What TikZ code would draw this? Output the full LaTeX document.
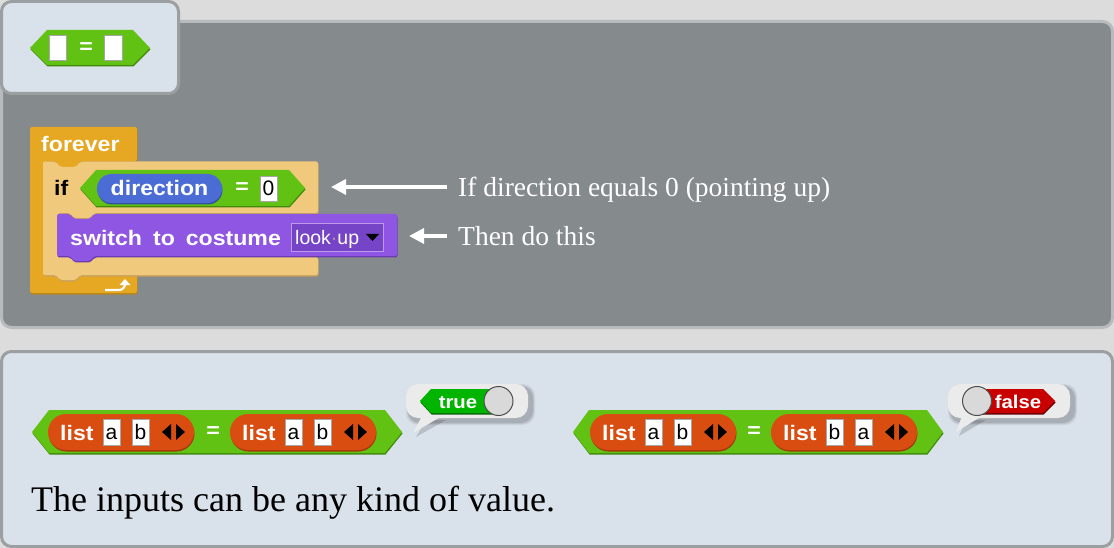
\documentclass[tikz,border=0pt]{standalone}
\usepackage{fontspec}
\setmainfont{Liberation Serif}
\newfontfamily\blockfont[FakeStretch=1.1]{Liberation Sans}
\newfontfamily\slotfont{Liberation Sans}
\usetikzlibrary{arrows.meta}

\definecolor{pagebg}{HTML}{DCDCDC}
\definecolor{stagegray}{HTML}{858A8C}
\definecolor{stageedge}{HTML}{B7BBBE}
\definecolor{panelfill}{HTML}{D9E1EA}
\definecolor{paneledge}{HTML}{9B9FA2}
\definecolor{ctrl}{HTML}{E6A822}
\definecolor{ctrldark}{HTML}{B9841A}
\definecolor{ctrllight}{HTML}{F1C97D}
\definecolor{ctrllightdark}{HTML}{C9A25C}
\definecolor{opgreen}{HTML}{62C213}
\definecolor{opgreendark}{HTML}{3F8A0A}
\definecolor{varblue}{HTML}{4A6CD4}
\definecolor{varbluedark}{HTML}{34509F}
\definecolor{looks}{HTML}{8F56E3}
\definecolor{looksdark}{HTML}{6A3BB0}
\definecolor{looksslot}{HTML}{7644C6}
\definecolor{dotcol}{HTML}{C89C8C}
\definecolor{listred}{HTML}{D94D11}
\definecolor{listreddark}{HTML}{A3380B}
\definecolor{truegreen}{HTML}{00B400}
\definecolor{falsered}{HTML}{C80000}
\definecolor{bubble}{HTML}{EBEBEB}
\definecolor{knob}{HTML}{D9D9D9}

\tikzset{
  blockbody/.style 2 args={fill=#1,
    preaction={fill=#2, transform canvas={xshift=0.5pt, yshift=-1.5pt}}},
  lbl/.style={font=\blockfont\bfseries\fontsize{21}{25}\selectfont, text=white, inner sep=0pt},
  lbldark/.style={lbl, text=black},
  slottext/.style={font=\slotfont\fontsize{21}{24}\selectfont, text=black, inner sep=0pt},
  slotbox/.style={fill=white, draw=black!35, line width=0.6pt},
  note/.style={font=\fontsize{27.5}{32}\selectfont, text=white, inner sep=0pt, anchor=base west},
  callout/.style={white, line width=3.5pt, -{Triangle[length=15pt,width=15pt]}},
  bubbleshade/.style={fill=black, opacity=#1},
  pics/listreporter/.style 2 args={code={
    \path[blockbody={listred}{listreddark}, rounded corners=18pt] (0,0) rectangle (146,36);
    \node[lbl, anchor=base west] (-lbl) at (12,26) {list};
    \draw[slotbox] (55,5) rectangle (72,31);
    \node[slottext, anchor=base] (-first) at (63.5,25) {#1};
    \draw[slotbox] (84,5) rectangle (101,31);
    \node[slottext, anchor=base] (-second) at (92.5,25) {#2};
    \fill[black] (114,18) -- (123,10) -- (123,26) -- cycle;
    \fill[black] (128,10) -- (137,18) -- (128,26) -- cycle;
  }},
}

\begin{document}
\begin{tikzpicture}[x=1pt,y=-1pt]
\useasboundingbox (0,0) rectangle (1114,548);
\fill[pagebg] (0,0) rectangle (1114,548);

% scripting area
\draw[stageedge, fill=stagegray, line width=3pt, rounded corners=10pt]
  (1.5,21.5) rectangle (1112.5,327.5);
% palette corner with the bare = block
\draw[paneledge, fill=panelfill, line width=3pt, rounded corners=10pt]
  (1.5,1.5) rectangle (178.5,93.5);
\path[blockbody={opgreen}{opgreendark}]
  (30,48) -- (47,30) -- (133,30) -- (150,48) -- (133,65) -- (47,65) -- cycle;
\draw[slotbox] (49,35) rectangle (66,60);
\draw[slotbox] (104,35) rectangle (122,60);
\node[lbl] (eqPal) at (86,48) {=};

% forever loop
\path[blockbody={ctrl}{ctrldark}, rounded corners=2pt]
  (30,127) -- (137,127) -- (137,161) -- (80,161) -- (76,167.5) -- (60,167.5) -- (56,161)
  -- (45,161) -- (45,275) -- (137,275) -- (137,293) -- (30,293) -- cycle;
\node[lbl, anchor=base west] (foreverLbl) at (41,152) {forever};
\draw[white, line width=2.2pt] (105,290) -- (119,290) to[out=0,in=-90] (125,284);
\fill[white] (119.5,285) -- (130.5,285) -- (125,279) -- cycle;

% if block
\path[blockbody={ctrllight}{ctrllightdark}, rounded corners=2pt]
  (43,161.5) -- (56,161.5) -- (60,167) -- (76,167) -- (80,161.5) -- (318,161.5) -- (318,213)
  -- (94,213) -- (90,218) -- (74,218) -- (70,213) -- (58,213) -- (58,257) -- (318,257)
  -- (318,275) -- (80,275) -- (76,280) -- (60,280) -- (56,275) -- (43,275) -- cycle;
\node[lbldark, anchor=base west] (ifLbl) at (54,196) {if};

% condition: direction = 0
\path[blockbody={opgreen}{opgreendark}]
  (80,188) -- (96,170) -- (289,170) -- (305,188) -- (289,206) -- (96,206) -- cycle;
\path[blockbody={varblue}{varbluedark}, rounded corners=14.5pt] (97,174) rectangle (222,203);
\node[lbl, anchor=base] (dirLbl) at (159.5,196) {direction};
\node[lbl] (eqCond) at (242,188) {=};
\draw[slotbox] (260,176) rectangle (277,201);
\node[slottext, anchor=base] (zero) at (268.5,196) {0};

% switch to costume
\path[blockbody={looks}{looksdark}, rounded corners=2pt]
  (57,214) -- (70,214) -- (74,219) -- (90,219) -- (94,214) -- (397,214) -- (397,256)
  -- (94,256) -- (90,261) -- (74,261) -- (70,256) -- (57,256) -- cycle;
\node[lbl, anchor=base west] (switchLbl) at (70,246) {\spaceskip=11pt\relax switch to costume};
\draw[fill=looksslot, draw=looks!60!white, line width=0.8pt] (291,223) rectangle (383,251);
\node[font=\slotfont\fontsize{19.5}{22}\selectfont, text=white, inner sep=0pt, anchor=base west]
  (costume) at (295,245) {look\textcolor{dotcol}{·}up};
\fill[black] (366,234) -- (379,234) -- (372.5,241) -- cycle;

% callouts
\node[note] (noteIf) at (458,197) {If direction equals 0 (pointing up)};
\node[note] (noteThen) at (458,246) {Then do this};
\coordinate (tailIf) at (447,187);
\coordinate (tipIf) at (331,187);
\coordinate (tailThen) at (447,236);
\coordinate (tipThen) at (409,236);
\draw[callout] (tailIf) -- (tipIf);
\draw[callout] (tailThen) -- (tipThen);

% examples panel
\draw[paneledge, fill=panelfill, line width=3pt, rounded corners=10pt]
  (1.5,351.5) rectangle (1112.5,546.5);

% (list a b) = (list a b)
\path[blockbody={opgreen}{opgreendark}]
  (32,432) -- (49,410) -- (385,410) -- (402,432) -- (385,453) -- (49,453) -- cycle;
\pic (leftA) at (48,414) {listreporter={a}{b}};
\node[lbl] (eqA) at (213,432) {=};
\pic (leftB) at (230,414) {listreporter={a}{b}};

% speech bubble: true
\foreach \g/\o in {3/0.06,2/0.08,1/0.10}{
  \fill[bubbleshade=\o, rounded corners=12pt] (409-\g,387-\g) rectangle (532+\g,422+\g);
}
\fill[bubbleshade=0.15] (426,420) -- (416,437) -- (446,420) -- cycle;
\fill[bubble, rounded corners=12pt] (406,384) rectangle (528,418);
\fill[bubble] (422,416) -- (413,433) -- (442,416) -- cycle;
\path[blockbody={truegreen}{green!40!black}]
  (420,401) -- (431,389) -- (498,389) -- (498,413) -- (431,413) -- cycle;
\node[lbl, anchor=base, font=\blockfont\bfseries\fontsize{18.5}{22}\selectfont] (trueLbl) at (458,408) {true};
\draw[fill=knob, draw=black!70, line width=1pt] (498.5,401) circle (14.5);

% (list a b) = (list b a)
\path[blockbody={opgreen}{opgreendark}]
  (573,432) -- (589,410) -- (927,410) -- (943,432) -- (927,453) -- (589,453) -- cycle;
\pic (rightA) at (590,414) {listreporter={a}{b}};
\node[lbl] (eqB) at (754,432) {=};
\pic (rightB) at (771,414) {listreporter={b}{a}};

% speech bubble: false
\foreach \g/\o in {3/0.06,2/0.08,1/0.10}{
  \fill[bubbleshade=\o, rounded corners=12pt] (951-\g,387-\g) rectangle (1074+\g,422+\g);
}
\fill[bubbleshade=0.15] (966,420) -- (959,436) -- (986,420) -- cycle;
\fill[bubble, rounded corners=12pt] (948,384) rectangle (1070,418);
\fill[bubble] (962,416) -- (956,432) -- (982,416) -- cycle;
\path[blockbody={falsered}{red!40!black}]
  (978,389) -- (1043,389) -- (1055,401) -- (1043,413) -- (978,413) -- cycle;
\node[lbl, anchor=base, font=\blockfont\bfseries\fontsize{18.5}{22}\selectfont] (falseLbl) at (1018,408) {false};
\draw[fill=knob, draw=black!70, line width=1pt] (977,401) circle (14.5);

\node[font=\fontsize{36}{42}\selectfont, anchor=base west, inner sep=0pt]
  (summary) at (31,511) {The inputs can be any kind of value.};
\end{tikzpicture}
\end{document}
